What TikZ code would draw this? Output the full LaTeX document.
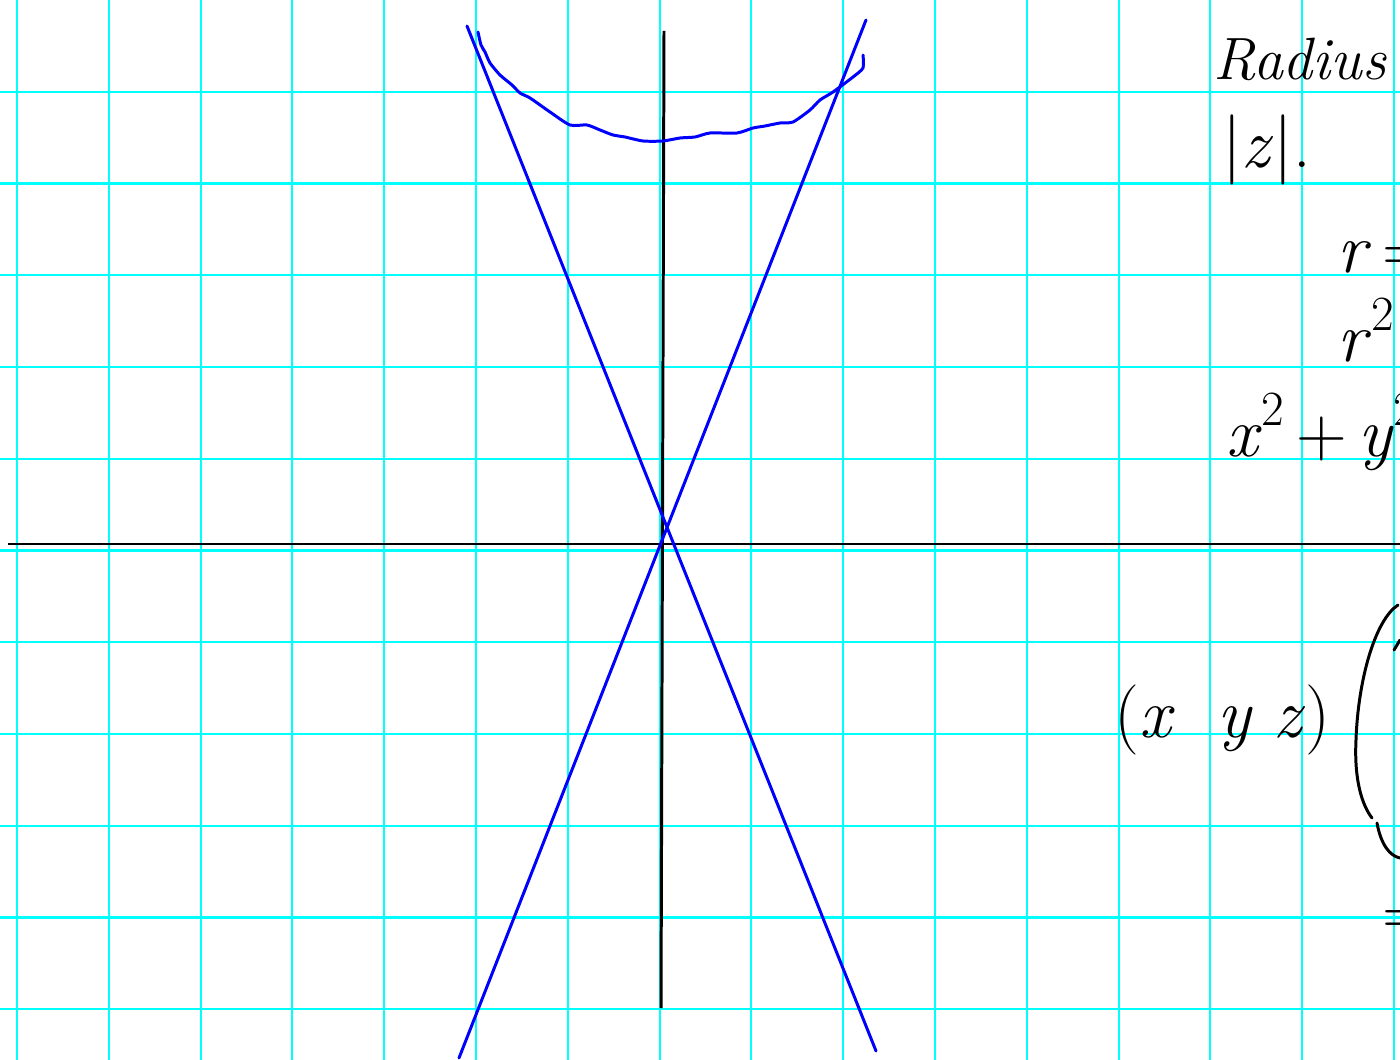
\documentclass[tikz,border=0pt]{standalone}
\usetikzlibrary{positioning}
\definecolor{papercyan}{RGB}{0,255,255}
\definecolor{penblue}{RGB}{0,0,255}
\newcommand{\up}[1]{\raisebox{0.45em}{\fontsize{28}{30}\selectfont #1}}
\begin{document}
\begin{tikzpicture}[x=0.02cm,y=-0.02cm,
  gridline/.style={papercyan,line width=1.2pt},
  axis/.style={black,line width=1.7pt},
  pen/.style={penblue,line width=1.7pt,line cap=round,line join=round},
  ink/.style={black,line width=1.7pt,line cap=round,line join=round},
  hand/.style={inner sep=0pt,anchor=base west,font=\fontsize{40}{44}\selectfont}]
\path[use as bounding box,clip] (0,0) rectangle (1400,1060);
\fill[white] (0,0) rectangle (1400,1060);

% squared paper
\foreach \k in {0,...,15}
  \draw[gridline] ({17+91.8*\k},0) -- ({17+91.8*\k},1060);
\foreach \k in {1,...,11}
  \draw[gridline] (0,{91.75*\k}) -- (1400,{91.75*\k});

% axes
\coordinate (xleft) at (8,544);
\coordinate (xright) at (1400,544);
\coordinate (ytop) at (664,31);
\coordinate (ybot) at (661,1008);
\draw[axis] (xleft) -- (xright);
\draw[axis] (ytop) -- (ybot);

% the two lines of the cone
\coordinate (la) at (467,26);
\coordinate (lb) at (876,1051);
\coordinate (ra) at (866,20);
\coordinate (rb) at (459,1058);
\draw[pen] (la) -- (lb);
\draw[pen] (ra) -- (rb);

% hyperbola, drawn by hand
\draw[pen] plot[smooth,tension=0.4] coordinates {(478,32) (481,45) (485,52) (490,63) (500,75) (512,85)
  (520,93) (530,98) (550,112) (570,125) (587,125) (600,130) (613,135) (625,137) (643,141) (663,141) (680,138)
  (695,137) (710,133) (737,133) (753,128) (765,126) (780,123) (793,122) (810,110) (820,100) (833,92)
  (853,77) (863,68) (863,55)};

% notes on the right
\node[hand,font=\fontsize{34}{40}\selectfont] (radius) at (1213,80) {\itshape Radius};
\node[hand] (modz) at (1222,168) {|\textit{z}|.};
\node[hand] (req) at (1337,273) {\textit{r}\,=};
\node[hand] (rsq) at (1337,362) {\textit{r}\up{2}};
\node[hand] (xy) at (1226,457) {\textit{x}\up{2}\,+\,\textit{y}\up{2}};
\node[hand] (row) at (1114,737) {(\textit{x}\ \ \textit{y}\ \textit{z})};
\node[hand,anchor=west] (eqn) at (1382,923) {=};

% big bracket of the matrix
\coordinate (brtop) at (1398,605);
\coordinate (brmid) at (1372,818);
\coordinate (brbot) at (1400,858);
\draw[ink] (brtop) .. controls (1375,620) and (1358,680) .. (1356,740)
  .. controls (1354,780) and (1362,805) .. (brmid);
\draw[ink] (1377,823) .. controls (1381,845) and (1390,856) .. (brbot);
\draw[ink] (1394,650) -- (1400,640);
\end{tikzpicture}
\end{document}
